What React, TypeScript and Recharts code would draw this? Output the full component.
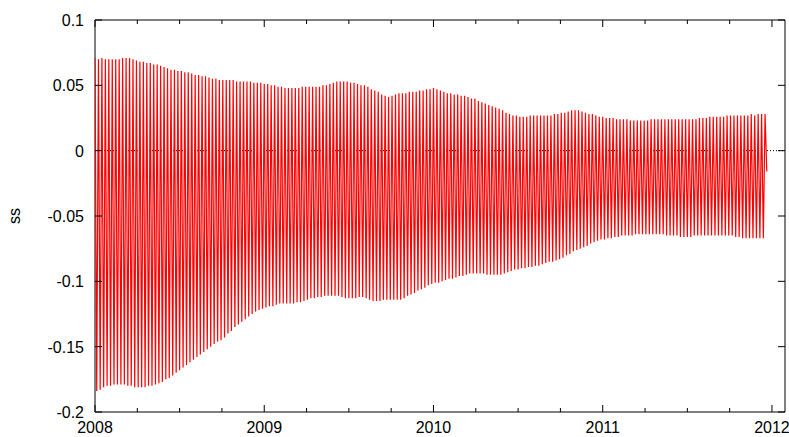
import { Line, LineChart, ReferenceArea, ReferenceLine, XAxis, YAxis } from 'recharts'

// peaks and troughs of the "ss" series, one of each per cycle
const peaks = [
  0.071, 0.07, 0.071, 0.07, 0.07, 0.07, 0.07, 0.07, 0.071, 0.071,
  0.071, 0.07, 0.069, 0.068, 0.068, 0.067, 0.067, 0.066, 0.066, 0.065,
  0.064, 0.063, 0.062, 0.062, 0.061, 0.061, 0.06, 0.06, 0.059, 0.058,
  0.058, 0.057, 0.057, 0.056, 0.055, 0.055, 0.054, 0.054, 0.054, 0.054,
  0.054, 0.053, 0.053, 0.053, 0.053, 0.053, 0.052, 0.052, 0.052, 0.051,
  0.051, 0.05, 0.05, 0.049, 0.049, 0.048, 0.048, 0.048, 0.048, 0.048,
  0.049, 0.049, 0.049, 0.049, 0.049, 0.049, 0.05, 0.05, 0.051, 0.052,
  0.053, 0.053, 0.053, 0.053, 0.052, 0.052, 0.051, 0.05, 0.05, 0.049,
  0.047, 0.046, 0.045, 0.043, 0.042, 0.041, 0.042, 0.043, 0.044, 0.044,
  0.044, 0.045, 0.045, 0.045, 0.046, 0.046, 0.047, 0.047, 0.048, 0.047,
  0.046, 0.045, 0.044, 0.044, 0.043, 0.043, 0.042, 0.042, 0.041, 0.04,
  0.04, 0.038, 0.037, 0.036, 0.035, 0.034, 0.033, 0.032, 0.031, 0.029,
  0.028, 0.027, 0.027, 0.026, 0.026, 0.026, 0.027, 0.027, 0.027, 0.027,
  0.027, 0.027, 0.027, 0.028, 0.028, 0.029, 0.029, 0.03, 0.031, 0.031,
  0.031, 0.03, 0.029, 0.028, 0.028, 0.027, 0.026, 0.026, 0.025, 0.025,
  0.025, 0.024, 0.024, 0.024, 0.024, 0.023, 0.023, 0.023, 0.023, 0.023,
  0.023, 0.024, 0.024, 0.024, 0.024, 0.024, 0.024, 0.024, 0.024, 0.024,
  0.024, 0.024, 0.024, 0.024, 0.024, 0.025, 0.025, 0.025, 0.026, 0.026,
  0.026, 0.026, 0.026, 0.027, 0.027, 0.027, 0.027, 0.027, 0.027, 0.027,
  0.028, 0.027, 0.028, 0.028, 0.028,
]

const troughs = [
  -0.184, -0.183, -0.181, -0.18, -0.18, -0.179, -0.179, -0.179, -0.179, -0.18,
  -0.18, -0.181, -0.181, -0.181, -0.181, -0.18, -0.18, -0.179, -0.178, -0.177,
  -0.175, -0.174, -0.172, -0.17, -0.168, -0.166, -0.164, -0.162, -0.16, -0.158,
  -0.156, -0.154, -0.152, -0.15, -0.148, -0.146, -0.145, -0.143, -0.14, -0.138,
  -0.135, -0.133, -0.131, -0.129, -0.127, -0.125, -0.123, -0.122, -0.121, -0.12,
  -0.119, -0.119, -0.118, -0.117, -0.117, -0.117, -0.117, -0.117, -0.116, -0.116,
  -0.115, -0.114, -0.113, -0.113, -0.112, -0.112, -0.111, -0.111, -0.111, -0.111,
  -0.111, -0.112, -0.113, -0.113, -0.113, -0.113, -0.112, -0.112, -0.113, -0.114,
  -0.115, -0.115, -0.115, -0.114, -0.114, -0.114, -0.114, -0.114, -0.114, -0.113,
  -0.111, -0.11, -0.109, -0.107, -0.106, -0.105, -0.103, -0.102, -0.101, -0.101,
  -0.1, -0.099, -0.098, -0.098, -0.097, -0.096, -0.096, -0.095, -0.094, -0.094,
  -0.094, -0.094, -0.094, -0.095, -0.095, -0.095, -0.095, -0.095, -0.094, -0.093,
  -0.092, -0.091, -0.091, -0.09, -0.09, -0.089, -0.089, -0.088, -0.088, -0.087,
  -0.086, -0.085, -0.085, -0.084, -0.083, -0.082, -0.08, -0.079, -0.077, -0.076,
  -0.075, -0.074, -0.073, -0.071, -0.07, -0.069, -0.068, -0.068, -0.067, -0.067,
  -0.066, -0.066, -0.065, -0.065, -0.065, -0.065, -0.064, -0.064, -0.064, -0.064,
  -0.064, -0.064, -0.064, -0.064, -0.064, -0.065, -0.065, -0.065, -0.065, -0.066,
  -0.066, -0.066, -0.066, -0.065, -0.065, -0.065, -0.065, -0.065, -0.065, -0.065,
  -0.065, -0.065, -0.065, -0.065, -0.065, -0.066, -0.066, -0.067, -0.067, -0.067,
  -0.067, -0.067, -0.067, -0.067,
  -0.016, // last sample
]

const START_YEAR = 2008
const CYCLES_PER_YEAR = 49

const xTicks = [
  2008, 2008.25, 2008.5, 2008.75, 2009, 2009.25, 2009.5, 2009.75, 2010,
  2010.25, 2010.5, 2010.75, 2011, 2011.25, 2011.5, 2011.75, 2012,
]
const yTicks = [-0.2, -0.15, -0.1, -0.05, 0, 0.05, 0.1]

// peak, trough, peak, trough ...
const data: { t: number; ss: number }[] = []
peaks.forEach((p, i) => {
  data.push({ t: START_YEAR + i / CYCLES_PER_YEAR, ss: p })
  if (i < troughs.length) {
    data.push({ t: START_YEAR + (i + 0.5) / CYCLES_PER_YEAR, ss: troughs[i] })
  }
})

const W = 789
const H = 437
const MARGIN = { top: 20, right: 4, bottom: 0, left: 0 }
const PLOT_LEFT = 95
const PLOT_RIGHT = W - MARGIN.right
const PLOT_TOP = MARGIN.top
const PLOT_BOTTOM = 412
const X_MAX = 2012.077
const FONT = 'Liberation Sans, Arial, sans-serif'

function XTick({ x, payload }: any) {
  const v = payload.value as number
  const major = Math.abs(v - Math.round(v)) < 1e-6
  const len = major ? 7 : 4
  return (
    <g>
      <line x1={x} x2={x} y1={PLOT_BOTTOM} y2={PLOT_BOTTOM - len} stroke='#000' />
      <line x1={x} x2={x} y1={PLOT_TOP} y2={PLOT_TOP + len} stroke='#000' />
      {major && (
        <text x={x} y={433} textAnchor='middle' fontSize={16} fontFamily={FONT} fill='#000'>
          {v}
        </text>
      )}
    </g>
  )
}

function YTick({ y, payload }: any) {
  const v = payload.value as number
  return (
    <g>
      <line x1={PLOT_LEFT} x2={PLOT_LEFT + 7} y1={y} y2={y} stroke='#000' />
      <line x1={PLOT_RIGHT} x2={PLOT_RIGHT - 7} y1={y} y2={y} stroke='#000' />
      <text x={84} y={y + 6} textAnchor='end' fontSize={16} fontFamily={FONT} fill='#000'>
        {Number(v.toFixed(2))}
      </text>
    </g>
  )
}

export default function App() {
  return (
    <div style={{ position: 'absolute', left: 0, top: 0, background: '#fff' }}>
      <LineChart width={W} height={H} data={data} margin={MARGIN}>
        <XAxis
          dataKey='t'
          type='number'
          domain={[START_YEAR, X_MAX]}
          ticks={xTicks}
          interval={0}
          allowDataOverflow
          height={H - PLOT_BOTTOM}
          axisLine={false}
          tickLine={false}
          tick={<XTick />}
        />
        <YAxis
          type='number'
          domain={[-0.2, 0.1]}
          ticks={yTicks}
          interval={0}
          allowDataOverflow
          width={PLOT_LEFT}
          axisLine={false}
          tickLine={false}
          tick={<YTick />}
          label={{
            value: 'ss',
            angle: -90,
            position: 'insideLeft',
            offset: 14,
            style: { fontSize: 16, fontFamily: FONT, fill: '#000', textAnchor: 'middle' },
          }}
        />
        <ReferenceLine y={0} stroke='#000' strokeDasharray='1 2' />
        <Line
          type='linear'
          dataKey='ss'
          stroke='#ff0000'
          strokeWidth={1.2}
          dot={false}
          isAnimationActive={false}
        />
        <ReferenceArea
          x1={START_YEAR}
          x2={X_MAX}
          y1={-0.2}
          y2={0.1}
          fill='none'
          stroke='#000'
          strokeOpacity={1}
        />
      </LineChart>
    </div>
  )
}
